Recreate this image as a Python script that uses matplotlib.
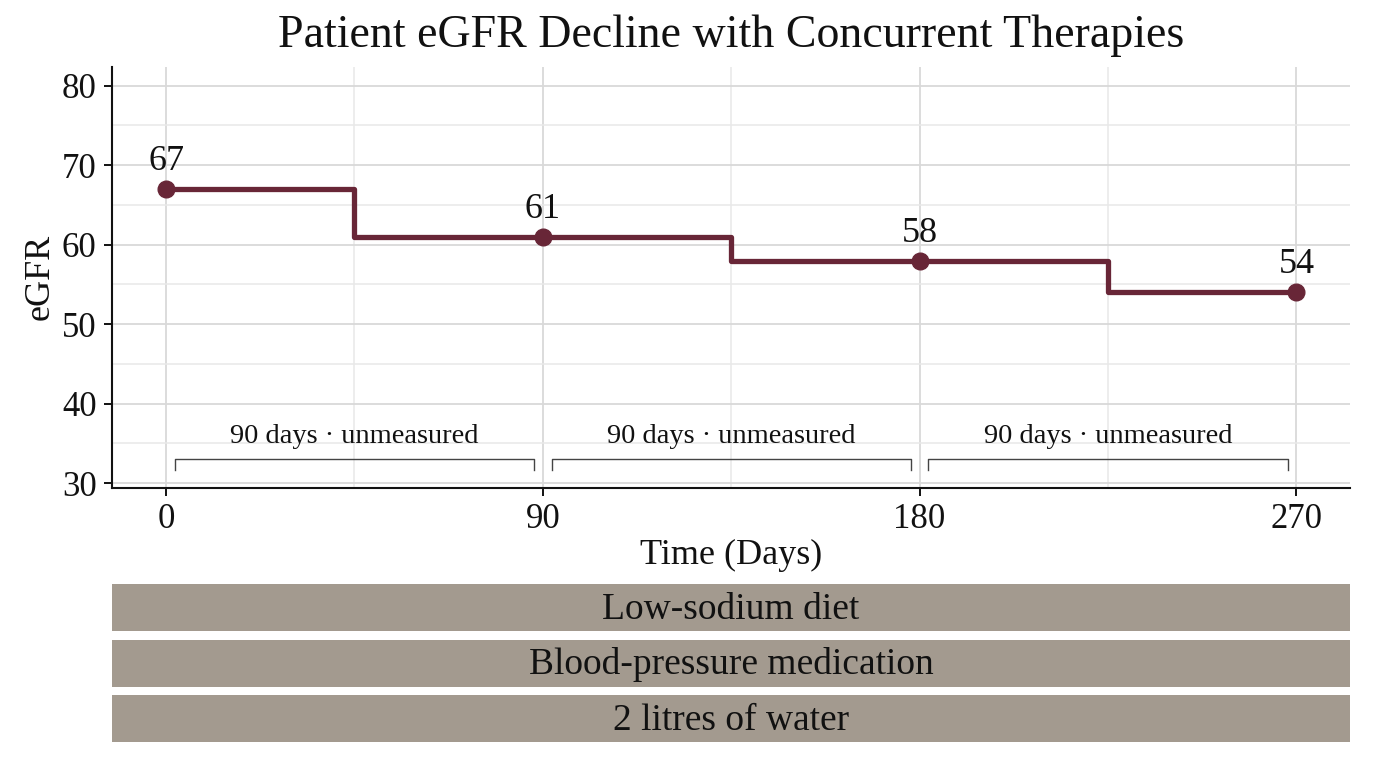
import matplotlib
matplotlib.use("Agg")
import matplotlib.pyplot as plt
from matplotlib.ticker import MultipleLocator

plt.rcParams['font.family'] = ['Liberation Serif', 'DejaVu Serif']

# ---- data ----
days = [0, 90, 180, 270]
egfr = [67, 61, 58, 54]
gap_labels = ["90 days · unmeasured", "90 days · unmeasured", "90 days · unmeasured"]
therapies = ["Low-sodium diet", "Blood-pressure medication", "2 litres of water"]
x_ticks = [0, 90, 180, 270]
y_ticks = [30, 40, 50, 60, 70, 80]

title = "Patient eGFR Decline with Concurrent Therapies"
line_color = "#682637"
bar_color = "#a39a8f"

fig = plt.figure(figsize=(13.76, 7.68), dpi=100)
ax = fig.add_axes([0.0814, 0.3646, 0.8997, 0.5486])

xlim = (-12.9, 282.8)
ax.set_xlim(*xlim)
ax.set_ylim(29.4, 82.4)

# grid
ax.set_xticks(x_ticks)
ax.xaxis.set_minor_locator(MultipleLocator(45))
ax.set_yticks(y_ticks)
ax.yaxis.set_minor_locator(MultipleLocator(5))
ax.grid(which='major', color='#d9d9d9', linewidth=1.3, zorder=0)
ax.grid(which='minor', color='#e8e8e8', linewidth=1.1, zorder=0)
ax.set_axisbelow(True)

for s in ['top', 'right']:
    ax.spines[s].set_visible(False)
for s in ['left', 'bottom']:
    ax.spines[s].set_linewidth(1.5)
    ax.spines[s].set_color('#111111')
ax.tick_params(which='major', length=6, width=1.4, labelsize=25, colors='#111111', pad=5)
ax.tick_params(which='minor', length=0)

# step line
ax.step(days, egfr, where='mid', color=line_color, linewidth=3.8, zorder=3, solid_capstyle='butt')
ax.plot(days, egfr, 'o', color=line_color, markersize=12, zorder=4)
for d, v in zip(days, egfr):
    ax.annotate(str(v), (d, v), xytext=(0, 8), textcoords='offset points',
                ha='center', va='bottom', fontsize=26, color='#111111', zorder=5)

# brackets for unmeasured gaps
for i, lab in enumerate(gap_labels):
    x0 = days[i] + 2.1
    x1 = days[i + 1] - 2.1
    ax.plot([x0, x0, x1, x1], [31.6, 33.0, 33.0, 31.6], color='#444444', linewidth=1.0, zorder=2)
    ax.text((days[i] + days[i + 1]) / 2, 34.3, lab, ha='center', va='bottom',
            fontsize=20.5, color='#111111')

ax.set_xlabel("Time (Days)", fontsize=26, color='#111111', labelpad=2)
ax.set_ylabel("eGFR", fontsize=26, color='#111111', labelpad=4)
ax.set_title(title, fontsize=33, color='#111111', pad=14.5)

# therapy bars
bx = fig.add_axes([0.0814, 0.028, 0.8997, 0.2168])
bx.set_xlim(*xlim)
bx.set_ylim(2.5, -0.5)
for i, t in enumerate(therapies):
    bx.barh(i, xlim[1] - xlim[0], left=xlim[0], height=0.843, color=bar_color, edgecolor='none')
    bx.text((xlim[0] + xlim[1]) / 2, i + 0.03, t, ha='center', va='center', fontsize=27, color='#111111')
bx.axis('off')

fig.savefig("out.png", dpi=100)
